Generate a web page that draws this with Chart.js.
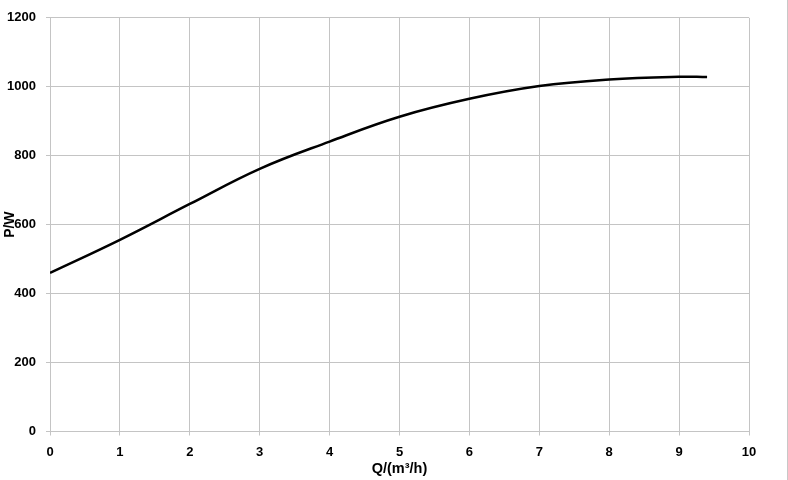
<!DOCTYPE html>
<html>
<head>
<meta charset="utf-8">
<script src="https://cdn.jsdelivr.net/npm/chart.js@4/dist/chart.umd.min.js"></script>
<style>
  html, body { margin: 0; padding: 0; background: #fff; }
  #wrap { width: 787px; height: 480px; border-right: 1px solid #c8c8c8; }
</style>
</head>
<body>
<div id="wrap"><canvas id="powerChart" width="787" height="480"></canvas></div>
<script>
// flow Q (m3/h) and power P (W)
const flow = [0, 1, 2, 3, 4, 5, 6, 7, 8, 9, 9.4];
const power = [460, 556, 660, 762, 841, 913, 965, 1002, 1021, 1029, 1028];
const xTicks = [0, 1, 2, 3, 4, 5, 6, 7, 8, 9, 10];
const yTicks = [0, 200, 400, 600, 800, 1000, 1200];

const gridColor = '#c4c4c4';
const tickFont = { family: 'Liberation Sans', size: 13, weight: 'bold' };

const ctx = document.getElementById('powerChart').getContext('2d');
const powerChart = new Chart(ctx, {
    type: 'line',
    data: {
        datasets: [{
            label: 'P',
            data: flow.map((q, i) => ({ x: q, y: power[i] })),
            borderColor: '#000',
            borderWidth: 2.5,
            pointRadius: 0,
            fill: false,
            tension: 0.4
        }]
    },
    options: {
        responsive: false,
        animation: false,
        layout: { padding: { top: 15, right: 38, left: 0, bottom: 0 } },
        plugins: { legend: { display: false }, tooltip: { enabled: false } },
        scales: {
            x: {
                type: 'linear',
                min: 0,
                max: 10,
                afterBuildTicks: s => { s.ticks = xTicks.map(v => ({ value: v })); },
                afterFit: s => { s.height = 48.5; },
                grid: { color: gridColor, tickLength: 4 },
                border: { color: gridColor },
                ticks: { color: '#000', font: tickFont, padding: 9, maxRotation: 0, callback: v => String(v) },
                title: {
                    display: true,
                    text: 'Q/(m³/h)',
                    color: '#000',
                    font: { family: 'Liberation Sans', size: 14.5, weight: 'bold' },
                    padding: { top: 0, bottom: 2 }
                }
            },
            y: {
                min: 0,
                max: 1200,
                afterBuildTicks: s => { s.ticks = yTicks.map(v => ({ value: v })); },
                afterFit: s => { s.width = 50; },
                grid: { color: gridColor, tickLength: 4 },
                border: { color: gridColor },
                ticks: { color: '#000', font: tickFont, padding: 10, callback: v => String(v) },
                title: {
                    display: true,
                    text: 'P/W',
                    color: '#000',
                    font: { family: 'Liberation Sans', size: 14, weight: 'bold' },
                    padding: { top: 2, bottom: 0 }
                }
            }
        }
    }
});
</script>
</body>
</html>
